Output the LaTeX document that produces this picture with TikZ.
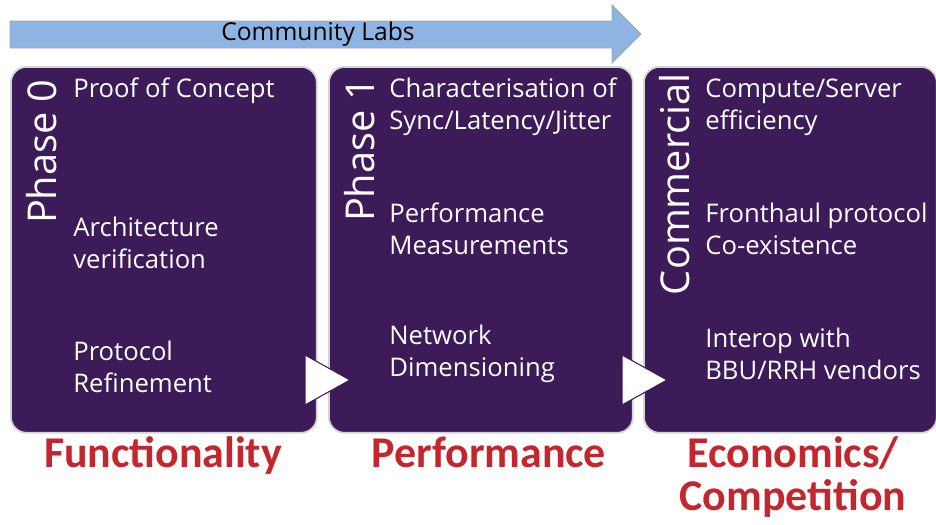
\documentclass[tikz,border=0pt]{standalone}
\usepackage{fontspec}
\setmainfont{Open Sans}
\newfontfamily\labelfont{Carlito}
\usetikzlibrary{positioning}
\definecolor{phasepurple}{HTML}{3C1B58}
\definecolor{labblue}{HTML}{8DB4E3}
\definecolor{goalred}{HTML}{C3262D}
\definecolor{boxline}{HTML}{D4D4D4}

\begin{document}
\begin{tikzpicture}[x=0.02cm, y=-0.02cm,
    phasebox/.style={draw=boxline, line width=1pt, fill=phasepurple, rounded corners=9pt,
        minimum height=7.32cm, anchor=north west, inner sep=0pt},
    item/.style={text=white, anchor=west, align=left, inner sep=0pt,
        font=\fontsize{14.6}{18.4}\selectfont},
    phase/.style={text=white, rotate=90, anchor=base east, inner sep=0pt,
        font=\fontsize{22.6}{26}\selectfont},
    goal/.style={text=goalred, align=center, inner sep=0pt,
        font=\labelfont\bfseries\fontsize{25}{24.4}\selectfont},
    chevron/.style={fill=white, draw=phasepurple, line width=0.6pt}]
    \useasboundingbox (0,0) rectangle (936,524);

    % Community labs arrow
    \fill[labblue, draw=gray!70, line width=0.5pt]
        (10,21) -- (612,21) -- (612,5) -- (641,34) -- (612,63) -- (612,48) -- (10,48) -- cycle;
    \node[font=\fontsize{14}{16}\selectfont] (labs) at (318,34) {Community Labs};

    % Phase boxes
    \node[phasebox, minimum width=6.12cm] (p0) at (10,66) {};
    \node[phasebox, minimum width=6.08cm] (p1) at (328,66) {};
    \node[phasebox, minimum width=5.86cm] (pc) at (643,66) {};

    % Chevrons between phases
    \draw[chevron] (305,355) -- (350,380) -- (305,405) -- cycle;
    \draw[chevron] (622,355) -- (667,380) -- (622,405) -- cycle;

    % Phase names
    \node[phase] (ph0) at (56,79) {Phase 0};
    \node[phase] (ph1) at (374,77) {Phase 1};
    \node[phase] (phc) at (689,73) {Commercial};

    % Phase 0 items
    \node[item] (poc) at (73,91) {Proof of Concept};
    \node[item] (arch) at (73,243) {Architecture\\verification};
    \node[item] (proto) at (73,367) {Protocol\\Refinement};

    % Phase 1 items
    \node[item] (sync) at (389,107) {Characterisation of\\Sync/Latency/Jitter};
    \node[item] (perf) at (389,229) {Performance\\Measurements};
    \node[item] (netdim) at (389,354) {Network\\Dimensioning};

    % Commercial items
    \node[item] (comp) at (705,107) {Compute/Server\\efficiency};
    \node[item] (front) at (705,229) {Fronthaul protocol\\Co-existence};
    \node[item] (interop) at (705,354) {Interop with\\BBU/RRH vendors};

    % Goals
    \node[goal, anchor=base] (func) at (163,467) {Functionality};
    \node[goal, anchor=base] (perfgoal) at (489,467) {Performance};
    \node[goal] (econ) at (793,477) {Economics/\\Competition};
\end{tikzpicture}
\end{document}
